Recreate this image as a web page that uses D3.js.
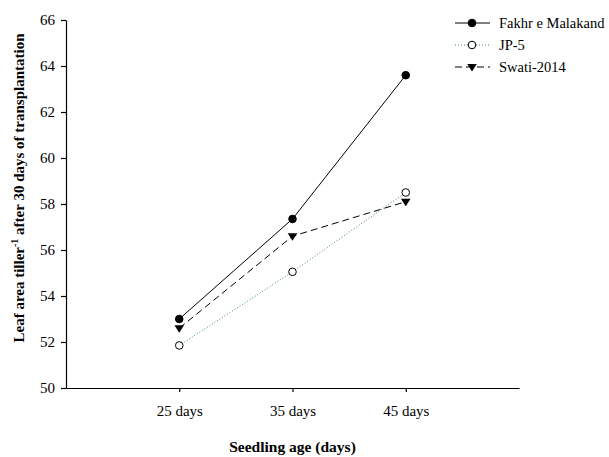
<!DOCTYPE html>
<html>
<head>
<meta charset="utf-8">
<script src="https://cdn.jsdelivr.net/npm/d3@7"></script>
<style>
body { margin: 0; background: #fff; }
text { font-family: "Liberation Serif", "Times New Roman", serif; fill: #000; }
</style>
</head>
<body>
<div id="chart"></div>
<script>
var ages = [25, 35, 45];
var ageLabels = ["25 days", "35 days", "45 days"];
var fakhr = [53.0, 57.35, 63.6];
var jp5 = [51.85, 55.05, 58.5];
var swati = [52.6, 56.6, 58.1];
var yTicks = [50, 52, 54, 56, 58, 60, 62, 64, 66];

var series = [
	{ name: "Fakhr e Malakand", values: fakhr, dash: null, color: "#000", marker: "circle", fill: "#000" },
	{ name: "JP-5", values: jp5, dash: "1,2", color: "#3a8a6a", marker: "circle", fill: "#fff" },
	{ name: "Swati-2014", values: swati, dash: "7,4", color: "#000", marker: "triangle", fill: "#000" }
];

var width = 609, height = 457;
var margin = { left: 66, right: 90, top: 20, bottom: 69 };

var x = d3.scaleLinear().domain([15, 55]).range([margin.left, width - margin.right]);
var y = d3.scaleLinear().domain([50, 66]).range([height - margin.bottom, margin.top]);

var svg = d3.select("#chart")
	.append("svg")
	.attr("width", width)
	.attr("height", height);

// axes
var xAxis = d3.axisBottom(x)
	.tickValues(ages)
	.tickFormat(function (d, i) { return ageLabels[i]; })
	.tickSizeInner(4)
	.tickSizeOuter(0)
	.tickPadding(13);

var yAxis = d3.axisLeft(y)
	.tickValues(yTicks)
	.tickSizeInner(5)
	.tickSizeOuter(0)
	.tickPadding(6);

var gx = svg.append("g")
	.attr("transform", "translate(0," + (height - margin.bottom) + ")")
	.call(xAxis);

var gy = svg.append("g")
	.attr("transform", "translate(" + margin.left + ",0)")
	.call(yAxis);

[gx, gy].forEach(function (g) {
	g.selectAll("text").style("font-size", "15px").style("font-family", "Liberation Serif");
	g.selectAll("path, line").attr("stroke", "#000").attr("stroke-width", 1.2);
});

// axis titles
svg.append("text")
	.attr("x", (margin.left + width - margin.right) / 2)
	.attr("y", 452)
	.attr("text-anchor", "middle")
	.style("font-size", "15.5px")
	.style("font-weight", "bold")
	.text("Seedling age (days)");

var yt = svg.append("text")
	.attr("transform", "translate(24,188) rotate(-90)")
	.attr("text-anchor", "middle")
	.style("font-size", "15px")
	.style("font-weight", "bold");
yt.append("tspan").text("Leaf area tiller");
yt.append("tspan").attr("dy", -6).style("font-size", "10px").text("-1");
yt.append("tspan").attr("dy", 6).text(" after 30 days of transplantation");

// lines
var line = d3.line()
	.x(function (d, i) { return x(ages[i]); })
	.y(function (d) { return y(d); });

function drawMarker(g, s, px, py) {
	if (s.marker === "circle") {
		g.append("circle")
			.attr("cx", px).attr("cy", py).attr("r", 3.8)
			.attr("fill", s.fill)
			.attr("stroke", "#000").attr("stroke-width", 1);
	} else {
		var r = 4.8;
		g.append("path")
			.attr("d", "M" + (px - r) + "," + (py - r * 0.6) + "L" + (px + r) + "," + (py - r * 0.6) + "L" + px + "," + (py + r * 0.95) + "Z")
			.attr("fill", s.fill);
	}
}

series.forEach(function (s) {
	svg.append("path")
		.attr("d", line(s.values))
		.attr("fill", "none")
		.attr("stroke", s.color)
		.attr("stroke-width", 1)
		.attr("stroke-dasharray", s.dash);
});

series.forEach(function (s) {
	var g = svg.append("g");
	s.values.forEach(function (v, i) {
		drawMarker(g, s, x(ages[i]), y(v));
	});
});

// legend
var legend = svg.append("g");
series.forEach(function (s, i) {
	var ly = 23 + i * 22;
	legend.append("line")
		.attr("x1", 455).attr("x2", 490)
		.attr("y1", ly).attr("y2", ly)
		.attr("stroke", s.color)
		.attr("stroke-width", 1)
		.attr("stroke-dasharray", s.dash);
	drawMarker(legend, s, 472, ly);
	legend.append("text")
		.attr("x", 499)
		.attr("y", ly + 5)
		.style("font-size", "14.5px")
		.text(s.name);
});
</script>
</body>
</html>
